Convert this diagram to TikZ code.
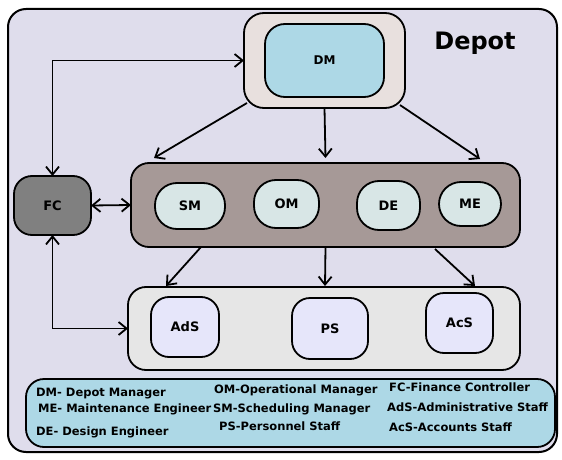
\documentclass[tikz,border=0pt]{standalone}
\usepackage{fontspec}
\setsansfont{DejaVu Sans}
\usetikzlibrary{
  arrows.meta,
  calc,
  positioning,
}
\definecolor{depotbg}{HTML}{DFDDEC}
\definecolor{dmouter}{HTML}{E8E0DE}
\definecolor{dminner}{HTML}{ADD8E6}
\definecolor{mgmtbg}{HTML}{A69997}
\definecolor{mgmtfg}{HTML}{D8E6E6}
\definecolor{staffbg}{HTML}{E6E6E6}
\definecolor{stafffg}{HTML}{E6E6FA}
\definecolor{fcbg}{HTML}{808080}
\tikzset{
  x = 1pt,
  y = -1pt,
  box/.style={
    draw, rounded corners=18pt, line width=1.8pt,
    inner sep=0pt, outer sep=0pt,
    font=\sffamily\bfseries\fontsize{13}{15}\selectfont,
  },
  >={Straight Barb[length=8pt,width=13pt]},
}
\begin{document}
\begin{tikzpicture}[
  lbl/.style={font=\sffamily\bfseries\fontsize{11.5}{13}\selectfont,
    inner sep=0pt, anchor=west, text height=8.4pt, text depth=0pt},
  arr/.style={line width=1.8pt},]
  \useasboundingbox (0,0) rectangle (562,460);
  %%
  \node[box, fill=depotbg, line width=2pt,
  minimum width=549pt, minimum height=443pt]
  (Depot) at (282.5,230.5) {};
  \node[font=\sffamily\bfseries\fontsize{24}{28}\selectfont]
  (DepotLbl) at (475,43) {Depot};
  %%
  \node[box, fill=dmouter, rounded corners=20pt,
  minimum width=161pt, minimum height=95pt]
  (DMBox) at (324.5,60.5) {};
  \node[box, fill=dminner, rounded corners=20pt,
  minimum width=119pt, minimum height=73pt,
  font=\sffamily\bfseries\fontsize{12}{14}\selectfont]
  (DM) at (DMBox.center) {DM};
  %%
  \node[box, fill=fcbg, minimum width=77pt, minimum height=59pt]
  (FC) at (52.5,205.5) {FC};
  %%
  \node[box, fill=mgmtbg, minimum width=389pt, minimum height=84pt]
  (Mgmt) at (325.5,205) {};
  \node[box, fill=mgmtfg, rounded corners=22pt,
  minimum width=70pt, minimum height=46pt] (SM) at (190,206) {SM};
  \node[box, fill=mgmtfg, rounded corners=22pt,
  minimum width=65pt, minimum height=48pt] (OM) at (286.5,204) {OM};
  \node[box, fill=mgmtfg, rounded corners=22pt,
  minimum width=63pt, minimum height=49pt] (DE) at (388.5,205.5) {DE};
  \node[box, fill=mgmtfg, rounded corners=22pt,
  minimum width=62pt, minimum height=44pt] (ME) at (470,204) {ME};
  %%
  \node[box, fill=staffbg, minimum width=392pt, minimum height=83pt]
  (Staff) at (324,328.5) {};
  \node[box, fill=stafffg, minimum width=68pt, minimum height=60pt]
  (AdS) at (185,327) {AdS};
  \node[box, fill=stafffg, minimum width=76pt, minimum height=61pt]
  (PS) at (330,328.5) {PS};
  \node[box, fill=stafffg, minimum width=67pt, minimum height=60pt]
  (AcS) at (459.5,323) {AcS};
  %%
  \draw[arr,<->](FC.north) |- (DMBox.west);
  \draw[arr,<->](FC.east) -- (Mgmt.west);
  \draw[arr,<->](FC.south) |- (Staff.west);
  %%
  \draw[arr,->]($(DMBox.south west)+(3,-5)$)
  -- ($(Mgmt.north west)+(23,-5)$);
  \draw[arr,->](DMBox.south) -- ($(Mgmt.north)+(0,-5)$);
  \draw[arr,->]($(DMBox.south east)+(-5,-3)$)
  -- ($(Mgmt.north east)+(-40,-4)$);
  %%
  \draw[arr,->]($(Mgmt.south west)+(70,0)$)
  -- ($(Staff.north west)+(38,-1)$);
  \draw[arr,->](Mgmt.south) -- ($(Staff.north)+(1,-1)$);
  \draw[arr,->]($(Mgmt.south east)+(-85,2)$)
  -- ($(Staff.north east)+(-45,-1)$);
  %%
  \node[box, fill=dminner, minimum width=529pt, minimum height=68pt]
  (Legend) at (290.5,413) {};
  \node[lbl] (LDM) at (36,392) {DM- Depot Manager};
  \node[lbl] (LME) at (38,408) {ME- Maintenance Engineer};
  \node[lbl] (LDE) at (36,431) {DE- Design Engineer};
  \node[lbl] (LOM) at (214,389) {OM-Operational Manager};
  \node[lbl] (LSM) at (213,408) {SM-Scheduling Manager};
  \node[lbl] (LPS) at (219,426) {PS-Personnel Staff};
  \node[lbl] (LFC) at (389,387) {FC-Finance Controller};
  \node[lbl] (LAdS) at (387,407) {AdS-Administrative Staff};
  \node[lbl] (LAcS) at (389,427) {AcS-Accounts Staff};
\end{tikzpicture}
\end{document}
